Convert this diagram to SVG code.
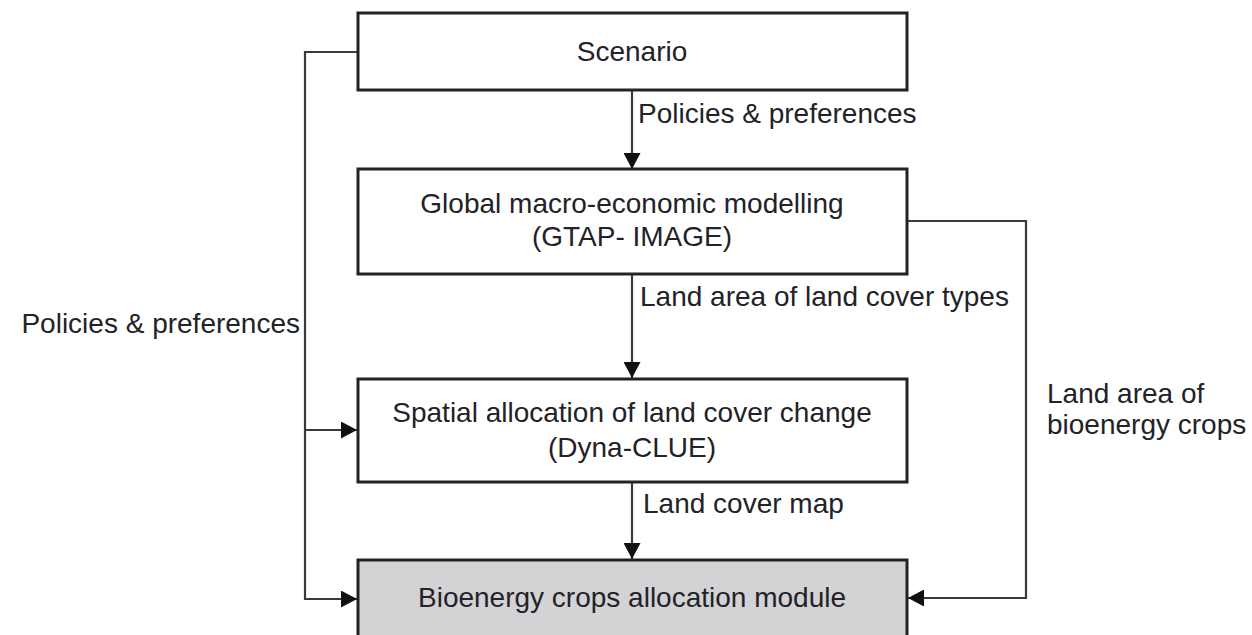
<svg xmlns="http://www.w3.org/2000/svg" width="1252" height="635" viewBox="0 0 1252 635">
<defs>
<style>
.box{fill:#ffffff;stroke:#222222;stroke-width:3}
.grey{fill:#d3d3d5}
.t{font-family:"Liberation Sans",Arial,sans-serif;font-size:28px;fill:#222228}
.c{text-anchor:middle}
.e{text-anchor:end}
.ln{fill:none;stroke:#3a3a3a;stroke-width:2.2}
</style>
<marker id="ah" markerUnits="userSpaceOnUse" markerWidth="17" markerHeight="17" refX="16" refY="8.5" orient="auto" viewBox="0 0 17 17">
<path d="M0,0 L16,8.5 L0,17 z" fill="#111111"/>
</marker>
</defs>
<rect width="1252" height="635" fill="#ffffff"/>
<g id="connectors">
<line class="ln" x1="632" y1="90" x2="632" y2="169" marker-end="url(#ah)"/>
<line class="ln" x1="632" y1="274" x2="632" y2="378" marker-end="url(#ah)"/>
<line class="ln" x1="632" y1="482" x2="632" y2="559" marker-end="url(#ah)"/>
<path class="ln" d="M358,52 H305 V599 H357" marker-end="url(#ah)"/>
<path class="ln" d="M305,430 H357" marker-end="url(#ah)"/>
<path class="ln" d="M907,221 H1026 V598 H908" marker-end="url(#ah)"/>
<text class="t" x="638" y="123">Policies &amp; preferences</text>
<text class="t" x="640" y="306">Land area of land cover types</text>
<text class="t" x="643" y="513">Land cover map</text>
<text class="t e" x="300" y="333">Policies &amp; preferences</text>
<text class="t" x="1047" y="403">Land area of</text>
<text class="t" x="1047" y="434">bioenergy crops</text>
</g>
<g id="scenario">
<rect class="box" x="358" y="13" width="549" height="77"/>
<text class="t c" x="632" y="61">Scenario</text>
</g>
<g id="global">
<rect class="box" x="358" y="169" width="549" height="105"/>
<text class="t c" x="632" y="213">Global macro-economic modelling</text>
<text class="t c" x="632" y="246">(GTAP- IMAGE)</text>
</g>
<g id="spatial">
<rect class="box" x="358" y="379" width="549" height="103"/>
<text class="t c" x="632" y="422">Spatial allocation of land cover change</text>
<text class="t c" x="632" y="457">(Dyna-CLUE)</text>
</g>
<g id="bioenergy">
<rect class="box grey" x="358" y="560" width="549" height="100"/>
<text class="t c" x="632" y="607">Bioenergy crops allocation module</text>
</g>
</svg>
